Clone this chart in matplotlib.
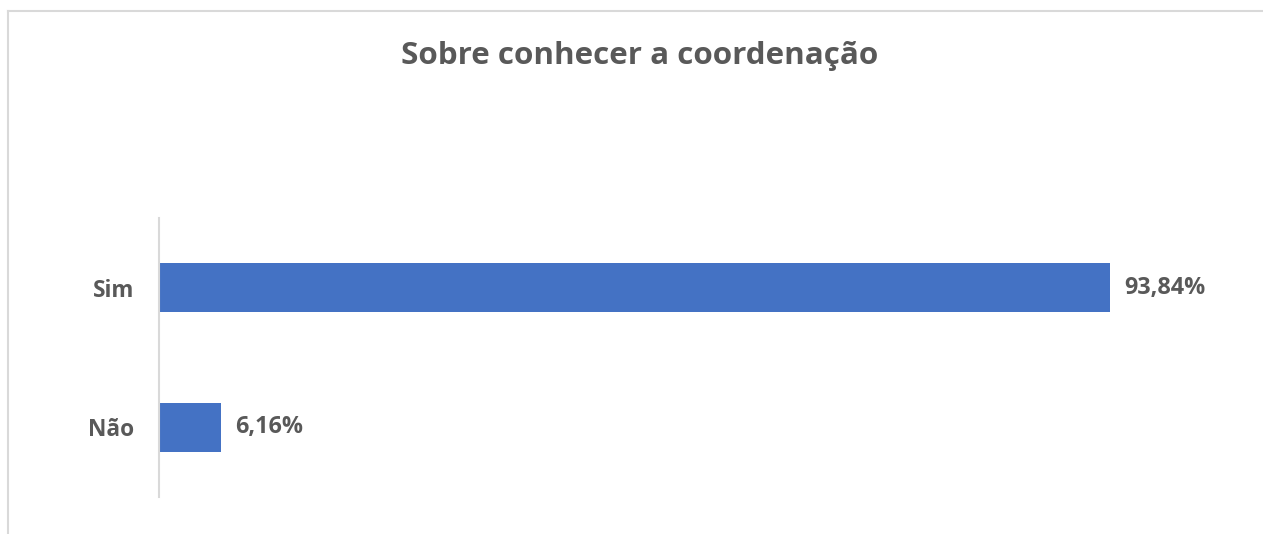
import matplotlib.pyplot as plt
from matplotlib.lines import Line2D

categories = ['Não', 'Sim']
values = [6.16, 93.84]
value_labels = ['6,16%', '93,84%']
title = 'Sobre conhecer a coordenação'

plt.rcParams['font.family'] = ['Open Sans', 'DejaVu Sans']
grey = '#595959'

fig = plt.figure(figsize=(12.63, 5.34), dpi=100)
ax = fig.add_axes([159 / 1263, 1 - 497 / 534, (1172 - 159) / 1263, (497 - 218) / 534])

ax.barh(range(len(categories)), values, height=0.35, color='#4472C4')
ax.set_xlim(0, 100)
ax.set_ylim(-0.5, 1.5)

for i, v in enumerate(values):
    ax.text(v + 1.4, i, value_labels[i], va='center', ha='left',
            fontsize=16.8, fontweight='bold', color=grey)

ax.set_yticks(range(len(categories)))
ax.set_yticklabels(categories, fontsize=16.3, fontweight='bold', color=grey)
ax.tick_params(axis='y', length=0, pad=18)
ax.set_xticks([])
for s in ['top', 'right', 'bottom']:
    ax.spines[s].set_visible(False)
ax.spines['left'].set_color('#D9D9D9')
ax.spines['left'].set_linewidth(1.5)

fig.text(640 / 1263, 1 - 56 / 534, title, ha='center', va='center',
         fontsize=22.6, fontweight='bold', color=grey)

# chart border (top and left visible in the crop)
fig.add_artist(Line2D([8 / 1263, 8 / 1263], [0, 1 - 10.5 / 534], color='#D9D9D9', lw=1.5))
fig.add_artist(Line2D([8 / 1263, 1], [1 - 10.5 / 534, 1 - 10.5 / 534], color='#D9D9D9', lw=1.5))

fig.savefig('out.png', dpi=100)
